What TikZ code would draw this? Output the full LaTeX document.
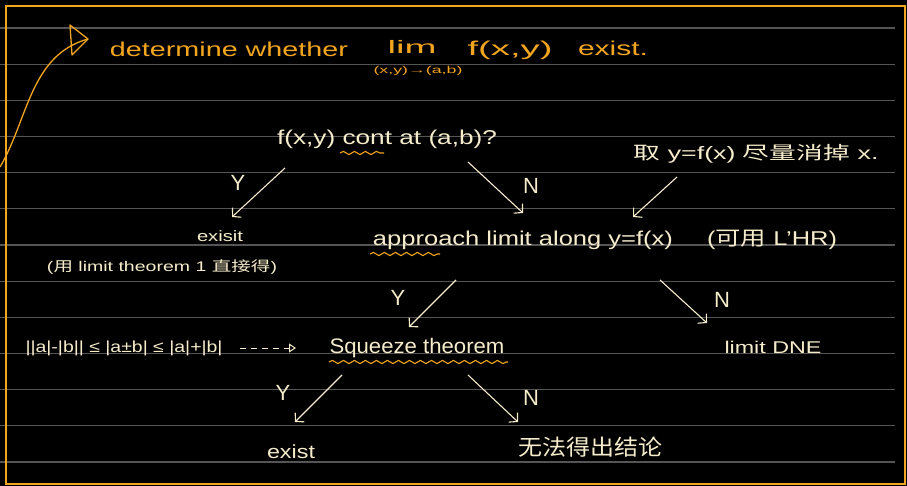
\documentclass[tikz,border=0pt]{standalone}
\usepackage{fontspec}
\setmainfont{Liberation Sans}
\newfontfamily\cjk{Noto Sans CJK SC}
\usetikzlibrary{arrows.meta,decorations.pathmorphing}
\definecolor{cream}{HTML}{F5ECCB}
\definecolor{ink}{HTML}{F2A51F}
\definecolor{rulegray}{HTML}{555555}
\newcommand\fitw[2]{\resizebox{#1}{\height}{#2}}
\newcommand\fs[1]{\fontsize{#1}{#1}\selectfont}
\tikzset{
  txt/.style={text=cream, inner sep=0pt, anchor=base},
  otxt/.style={text=ink, inner sep=0pt, anchor=base},
  flow/.style={draw=cream, line width=1.1pt, -{Straight Barb[length=6pt,width=13pt]}},
  wavy/.style={draw=ink, line width=1.1pt, decorate, decoration={snake, segment length=11pt, amplitude=1.6pt}},
  ruled/.style={draw=rulegray, line width=1.2pt},
  yn/.style={text=cream, inner sep=0pt, font=\fs{22}},
}
\begin{document}
\begin{tikzpicture}[x=1pt,y=-1pt]
\fill[black] (0,0) rectangle (907,486);
\useasboundingbox (0,0) rectangle (907,486);
% ruled lines
\foreach \k in {0,...,12} {
  \draw[ruled] (0,{28+36.17*\k}) -- (895,{28+36.17*\k});
}
% border
\draw[ink, line width=2pt] (6,6) rectangle (905,484);

% title
\coordinate (cs) at (0,167);
\coordinate (ct) at (88,39);
\draw[ink, line width=1.3pt] (cs) .. controls (28,120) and (30,55) .. (ct);
\draw[ink, line width=1.3pt, line join=round] (70,25) -- (ct) -- (72,55) -- cycle;
\node[otxt, font=\fs{20}] (t1) at (229,57) {\fitw{238pt}{determine whether}};
\node[otxt, font=\fs{18}] (t2) at (412,54) {\fitw{49pt}{lim}};
\node[otxt, font=\fs{10}] (t3) at (418,74) {\fitw{89pt}{(x,y)→(a,b)}};
\node[otxt, font=\fs{20}] (t4) at (510,56) {\fitw{85pt}{f(x,y)}};
\node[otxt, font=\fs{20}] (t5) at (613,56) {\fitw{70pt}{exist.}};

% question 1
\node[txt, font=\fs{20}] (q1) at (387,145) {\fitw{220pt}{f(x,y) cont at (a,b)?}};
\draw[wavy] (340,153) -- (384,153);

\coordinate (a1s) at (285,168); \coordinate (a1e) at (232,217);
\draw[flow] (a1s) -- (a1e);
\node[yn] (y1) at (238,183) {Y};
\coordinate (a2s) at (468,162); \coordinate (a2e) at (523,213);
\draw[flow] (a2s) -- (a2e);
\node[yn] (n1) at (531,186) {N};

\node[txt, font=\fs{15}] (ex1) at (220,242) {\fitw{46pt}{exisit}};
\node[txt, font=\fs{14}] (lt) at (162,271) {\fitw{230pt}{({\cjk 用} limit theorem 1 {\cjk 直接得})}};

% approach
\node[txt, font=\fs{20}] (ap) at (523,246) {\fitw{300pt}{approach limit along y=f(x)}};
\node[txt, font=\fs{20}] (lhr) at (772,246) {\fitw{130pt}{({\cjk 可用} L'HR)}};
\draw[wavy] (370,254) -- (440,254);

\node[txt, font=\fs{18}] (hint) at (756,160) {\fitw{245pt}{{\cjk 取} y=f(x) {\cjk 尽量消掉} x.}};
\coordinate (h1) at (677,177); \coordinate (h2) at (633,217);
\draw[flow] (h1) -- (h2);

% second level
\coordinate (b1s) at (456,280); \coordinate (b1e) at (409,327);
\draw[flow] (b1s) -- (b1e);
\node[yn] (y2) at (398,298) {Y};
\coordinate (b2s) at (660,280); \coordinate (b2e) at (707,323);
\draw[flow] (b2s) -- (b2e);
\node[yn] (n2) at (722,300) {N};

\node[txt, font=\fs{21}] (sq) at (417,353) {\fitw{175pt}{Squeeze theorem}};
\draw[wavy] (329,362) -- (508,362);
\node[txt, font=\fs{17}] (dne) at (773,353) {\fitw{97pt}{limit DNE}};

\node[txt, font=\fs{16}] (ineq) at (124,352) {\fitw{197pt}{||a|-|b|| ≤ |a±b| ≤ |a|+|b|}};
\coordinate (d1) at (240,348); \coordinate (d2) at (296,348);
\draw[cream, line width=1pt, dash pattern=on 6pt off 5pt, -{Triangle[open,length=7pt,width=9pt]}] (d1) -- (d2);

% third level
\coordinate (c1s) at (342,375); \coordinate (c1e) at (295,422);
\draw[flow] (c1s) -- (c1e);
\node[yn] (y3) at (283,393) {Y};
\coordinate (c2s) at (468,375); \coordinate (c2e) at (518,422);
\draw[flow] (c2s) -- (c2e);
\node[yn] (n3) at (531,398) {N};

\node[txt, font=\fs{19}] (ex2) at (291,458) {\fitw{48pt}{exist}};
\node[text=cream, inner sep=0pt, font=\fs{22}] (nc) at (590,447) {\fitw{144pt}{\cjk 无法得出结论}};
\end{tikzpicture}
\end{document}
